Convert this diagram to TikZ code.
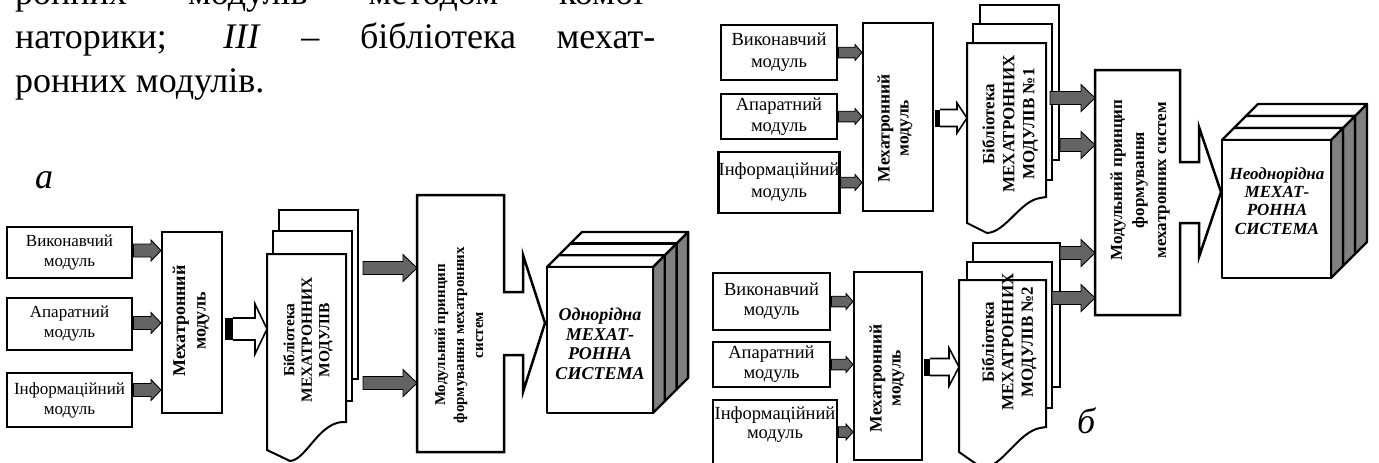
\documentclass[tikz,border=0pt]{standalone}
\usepackage{fontspec}
\setmainfont{Liberation Serif}
\usetikzlibrary{calc}
\definecolor{arrgrey}{RGB}{100,100,100}
\definecolor{cubegrey}{RGB}{128,128,128}
\newcommand\myfs[2]{\fontsize{#1pt}{#2pt}\selectfont}
% grey block arrow: #2 from, #3 to, #4 shaft half, #5 head half, #6 head length
\newcommand\garrow[6][]{%
  \draw[ga,#1] let \p1=(#2), \p2=(#3) in
   ({\x1},{\y1+#4}) -- ({\x2-#6},{\y1+#4}) -- ({\x2-#6},{\y1+#5}) -- ({\x2},{\y1}) --
   ({\x2-#6},{\y1-#5}) -- ({\x2-#6},{\y1-#4}) -- ({\x1},{\y1-#4}) -- cycle;}
% hollow arrow with black block: #1 from, #2 to, #3 block length, #4 shaft half, #5 head half, #6 head length
\newcommand\harrow[6]{%
  \fill let \p1=(#1) in ({\x1},{\y1+#4}) rectangle ({\x1+#3},{\y1-#4});
  \draw[ha] let \p1=(#1), \p2=(#2) in
   ({\x1+#3},{\y1+#4}) -- ({\x2-#6},{\y1+#4}) -- ({\x2-#6},{\y1+#5}) -- ({\x2},{\y1}) --
   ({\x2-#6},{\y1-#5}) -- ({\x2-#6},{\y1-#4}) -- ({\x1+#3},{\y1-#4});}
% stacked 3D box: x0 y0 w h d
\newcommand\cubestack[5]{%
  \foreach \k in {2,1,0}{%
    \pgfmathsetmacro\ox{#1+\k*#5}\pgfmathsetmacro\oy{#2-\k*#5}
    \draw[cubeline, fill=cubegrey] ({\ox+#3},{\oy}) -- ({\ox+#3+#5},{\oy-#5}) -- ({\ox+#3+#5},{\oy-#5+#4}) -- ({\ox+#3},{\oy+#4}) -- cycle;
    \draw[cubeline, fill=white] ({\ox},{\oy}) -- ({\ox+#5},{\oy-#5}) -- ({\ox+#3+#5},{\oy-#5}) -- ({\ox+#3},{\oy}) -- cycle;
    \draw[cubeline, fill=white] ({\ox},{\oy}) rectangle ({\ox+#3},{\oy+#4});
  }}
\tikzset{
  txt/.style={inner sep=0pt, font=\myfs{36}{43}},
  inbox/.style={draw, line width=2.8pt, fill=white, inner sep=0pt, align=center},
  mechbox/.style={draw, line width=2pt, fill=white, inner sep=0pt},
  vtext/.style={rotate=90, align=center, inner sep=0pt},
  docpage/.style={draw, line width=2pt, fill=white},
  ga/.style={draw=black, fill=arrgrey, line width=0.9pt},
  ha/.style={draw=black, fill=white, line width=1.6pt},
  modshape/.style={draw, line width=2.5pt, fill=white},
  cubeline/.style={draw, line width=2.3pt, line join=round},
  ghost/.style={inner sep=0pt, outer sep=0pt, minimum width=#1},
}
\begin{document}
\begin{tikzpicture}[x=1pt,y=-1pt,line join=miter]
\useasboundingbox (0,0) rectangle (1379,463);
\fill[white] (0,0) rectangle (1379,463);
\clip (0,0) rectangle (1379,463);

% ---------- paragraph ----------
\node[txt, anchor=base west] (p1) at (15,5) {\makebox[640pt][s]{ронних модулів методом комбі-}};
\node[txt, anchor=base west] (p2) at (15,48.5) {\makebox[640pt][s]{наторики; \textit{III} – бібліотека мехат-}};
\node[txt, anchor=base west] (p3) at (15,92) {ронних модулів.};
\node[txt, anchor=base west, font=\itshape\myfs{36}{43}] (la) at (35,188) {а};
\node[txt, anchor=base west, font=\itshape\myfs{36}{43}] (lb) at (1077,433) {б};

% ================= panel a =================
\node[inbox, minimum width=125pt, minimum height=51pt, font=\myfs{17}{20}] (a1) at (69.5,252.5) {Виконавчий\\модуль};
\node[inbox, minimum width=125pt, minimum height=52pt, font=\myfs{17}{20}] (a2) at (69.5,324) {Апаратний\\модуль};
\node[inbox, minimum width=125pt, minimum height=54pt, font=\myfs{17}{20}] (a3) at (69.5,400) {Інформаційний\\модуль};
\node[mechbox, minimum width=60pt, minimum height=181pt] (mA) at (192,322.5) {};
\node[vtext, font=\bfseries\myfs{18}{20.5}] (mAt) at (191,321) {Мехатронний\\модуль};
\coordinate (a1o) at ([yshift=2pt]a1.east);
\coordinate (a2o) at ([yshift=1pt]a2.east);
\coordinate (a3o) at ([yshift=10pt]a3.east);
\garrow{a1o}{mA.west |- a1o}{6.5pt}{10.5pt}{10pt}
\garrow{a2o}{mA.west |- a2o}{6.5pt}{10.5pt}{10pt}
\garrow{a3o}{mA.west |- a3o}{6.5pt}{10.5pt}{10pt}

% library a
\draw[docpage] (279,210) rectangle (358,379);
\draw[docpage] (273,231) rectangle (352,401);
\draw[docpage] (267,254) -- (346,254) -- (346,422) -- (342,422) .. controls (318,424) and (306,460) .. (290,461) -- (267,450) -- cycle;
\node[ghost=79pt, minimum height=196pt] (lA) at (306.5,352) {};
\node[vtext, font=\bfseries\myfs{15.5}{17.5}] (lAt) at (308,340) {Бібліотека\\МЕХАТРОННИХ\\МОДУЛІВ};
\coordinate (mAo) at ([xshift=2pt,yshift=-6.5pt]mA.east);
\harrow{mAo}{lA.west |- mAo}{8pt}{11pt}{25pt}{12pt}

% modular principle a
\draw[modshape] (417,195) -- (504,195) -- (504,292) -- (523,292) -- (523,255) -- (545,323) -- (523,392) -- (523,355) -- (504,355) -- (504,452) -- (417,452) -- cycle;
\node[ghost=87pt, minimum height=257pt] (mdA) at (460.5,323.5) {};
\node[vtext, font=\bfseries\myfs{15}{19}] (mdAt) at (459,335) {Модульний принцип\\формування мехатронних\\систем};
\coordinate (la1) at (363,268);
\coordinate (la2) at (363,383);
\garrow{la1}{mdA.west |- la1}{6.5pt}{13.5pt}{14pt}
\garrow{la2}{mdA.west |- la2}{6.5pt}{13.5pt}{14pt}

% cube a
\cubestack{547}{267}{106}{146}{11.7}
\node[align=center, inner sep=0pt, font=\bfseries\itshape\myfs{18}{19.5}] (cA) at (600,344) {Однорідна\\МЕХАТ-\\РОННА\\СИСТЕМА};

% ================= panel b, upper =================
\node[inbox, minimum width=116pt, minimum height=55pt, font=\myfs{18.5}{22}] (b1) at (779,52.5) {Виконавчий\\модуль};
\node[inbox, minimum width=116pt, minimum height=45pt, font=\myfs{18.5}{21}] (b2) at (779,116.5) {Апаратний\\модуль};
\node[inbox, minimum width=116pt, minimum height=61pt, font=\myfs{18.5}{22}] (b3) at (779,182.5) {Інформаційний\\модуль};
\node[mechbox, minimum width=70pt, minimum height=188pt] (mB1) at (898,117) {};
\node[vtext, font=\bfseries\myfs{17.5}{19}] (mB1t) at (895,128) {Мехатронний\\модуль};
\garrow{b1.east}{mB1.west |- b1.east}{5.3pt}{8pt}{7pt}
\garrow{b2.east}{mB1.west |- b2.east}{5.3pt}{8pt}{7pt}
\garrow{b3.east}{mB1.west |- b3.east}{5.3pt}{8pt}{7pt}

\draw[docpage] (980,5) rectangle (1059,160);
\draw[docpage] (973,24) rectangle (1052,180);
\draw[docpage] (967,43) -- (1046,43) -- (1046,197) -- (1040,198) .. controls (1020,201) and (1006,232) .. (987,233) -- (967,223) -- cycle;
\node[ghost=79pt, minimum height=180pt] (lB1) at (1006.5,133) {};
\node[vtext, font=\bfseries\myfs{17}{20}] (lB1t) at (1010,124) {Бібліотека\\МЕХАТРОННИХ\\МОДУЛІВ №1};
\coordinate (mB1o) at ([xshift=1pt,yshift=-1pt]mB1.east);
\harrow{mB1o}{lB1.west |- mB1o}{5pt}{8.5pt}{15pt}{10pt}

% ================= panel b, lower =================
\node[inbox, minimum width=117pt, minimum height=57pt, font=\myfs{18.5}{20}] (c1) at (771.5,301.5) {Виконавчий\\модуль};
\node[inbox, minimum width=117pt, minimum height=45pt, font=\myfs{18.5}{20}] (c2) at (771.5,364.5) {Апаратний\\модуль};
\node[inbox, minimum width=124pt, minimum height=80pt] (c3) at (775,440) {};
\node[align=center, inner sep=0pt, font=\myfs{18.5}{19}] (c3t) at (775,425) {Інформаційний\\модуль};
\node[mechbox, minimum width=68pt, minimum height=188pt] (mB2) at (888,366) {};
\node[vtext, font=\bfseries\myfs{17.5}{19}] (mB2t) at (887,378) {Мехатронний\\модуль};
\garrow{c1.east}{mB2.west |- c1.east}{5.3pt}{8pt}{7pt}
\garrow{c2.east}{mB2.west |- c2.east}{5.3pt}{8pt}{7pt}
\coordinate (c3o) at ([yshift=8pt]c3.east);
\garrow{c3o}{mB2.west |- c3o}{5.3pt}{8pt}{7pt}

\draw[docpage] (973,243) rectangle (1060,387);
\draw[docpage] (967,262) rectangle (1052,408);
\draw[docpage] (959,280) -- (1046,280) -- (1046,427) -- (1040,428) .. controls (1018,432) and (1002,468) .. (982,468) -- (959,452) -- cycle;
\node[ghost=87pt, minimum height=172pt] (lB2) at (1002.5,366) {};
\node[vtext, font=\bfseries\myfs{17}{19.5}] (lB2t) at (1009,342) {Бібліотека\\МЕХАТРОННИХ\\МОДУЛІВ №2};
\coordinate (mB2o) at ([xshift=1pt,yshift=-1pt]mB2.east);
\harrow{mB2o}{lB2.west |- mB2o}{6pt}{8.5pt}{19pt}{10pt}

% modular principle b
\draw[modshape] (1095,70) -- (1180,70) -- (1180,162) -- (1199,162) -- (1199,127) -- (1221,192) -- (1199,257) -- (1199,223) -- (1180,223) -- (1180,315) -- (1095,315) -- cycle;
\node[ghost=85pt, minimum height=245pt] (mdB) at (1137.5,192.5) {};
\node[vtext, font=\bfseries\myfs{17}{22}] (mdBt) at (1140,180) {Модульний принцип\\формування\\мехатронних систем};
\coordinate (lb1a) at (1050,98);
\coordinate (lb1b) at (1060,145);
\coordinate (lb2a) at (1060,253);
\coordinate (lb2b) at (1052,298);
\garrow{lb1a}{mdB.west |- lb1a}{6.5pt}{13.5pt}{14pt}
\garrow{lb1b}{mdB.west |- lb1b}{6.5pt}{13.5pt}{14pt}
\garrow{lb2a}{mdB.west |- lb2a}{6.5pt}{13.5pt}{14pt}
\garrow{lb2b}{mdB.west |- lb2b}{6.5pt}{13.5pt}{14pt}

% cube b
\cubestack{1222}{140}{109}{138}{12}
\node[align=center, inner sep=0pt, font=\bfseries\itshape\myfs{17}{18.3}] (cB) at (1277,201) {Неоднорідна\\МЕХАТ-\\РОННА\\СИСТЕМА};
\end{tikzpicture}
\end{document}
